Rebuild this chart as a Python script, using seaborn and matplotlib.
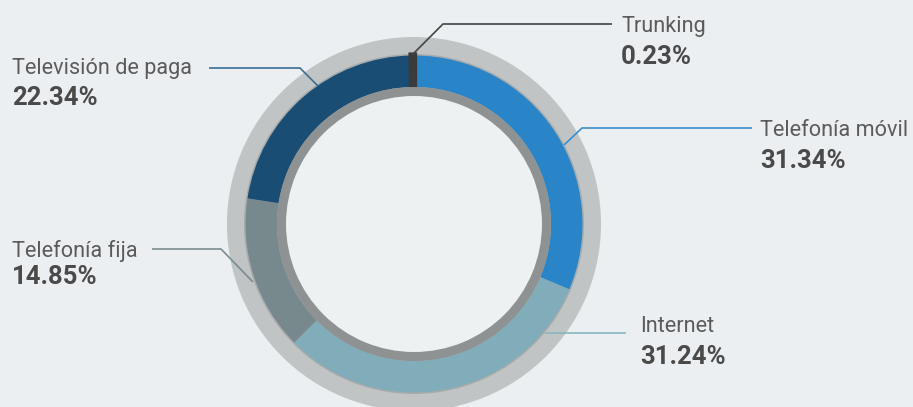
import matplotlib
matplotlib.use("Agg")
import matplotlib.pyplot as plt
from matplotlib.patches import Wedge
import seaborn as sns

# ---- data ----
categories = ["Telefonía móvil", "Internet", "Telefonía fija", "Televisión de paga", "Trunking"]
shares = [31.34, 31.24, 14.85, 22.34, 0.23]
pct_labels = ["31.34%", "31.24%", "14.85%", "22.34%", "0.23%"]
seg_colors = ["#2a85c8", "#80adb9", "#77898c", "#194d74", "#3b3b3b"]
line_colors = ["#3a8dcc", "#8ab6c1", "#7a8c8f", "#3d6d93", "#444444"]

W, H = 913, 407
BG = "#eceff1"

sns.set_theme(style="white")
plt.rcParams["font.family"] = ["Roboto", "DejaVu Sans"]

fig = plt.figure(figsize=(W / 100, H / 100), dpi=100, facecolor=BG)
ax = fig.add_axes([0, 0, 1, 1])
ax.set_facecolor(BG)
ax.set_xlim(0, W)
ax.set_ylim(0, H)

def Y(py):
    return H - py

cx, cy = 414, Y(224)
R_OUT, RING_W = 168.5, 31.5
palette = sns.color_palette(seg_colors)

# outer light ring
ax.pie([1], radius=187, center=(cx, cy), colors=["#c1c4c5"], frame=True,
       wedgeprops=dict(linewidth=0))
ax.pie([1], radius=170, center=(cx, cy), colors=["#a7abac"], frame=True,
       wedgeprops=dict(linewidth=0))
# data ring
wedges, _ = ax.pie(shares, radius=R_OUT, center=(cx, cy), colors=palette, startangle=90,
                   counterclock=False, frame=True,
                   wedgeprops=dict(width=RING_W, linewidth=0))
# the tiny Trunking slice is drawn with a stroke (clipped to the ring) so it stays visible
clip = Wedge((cx, cy), R_OUT, 0, 360, width=RING_W, transform=ax.transData)
wedges[-1].set_edgecolor(seg_colors[-1])
wedges[-1].set_linewidth(4.5)
wedges[-1].set_clip_path(clip)
# inner grey ring and inner disc
ax.pie([1], radius=137, center=(cx, cy), colors=["#8f9293"], frame=True,
       wedgeprops=dict(linewidth=0))
ax.pie([1], radius=128, center=(cx, cy), colors=["#eef1f2"], frame=True,
       wedgeprops=dict(linewidth=0))

# leader lines (pixel coords)
leaders = {
    "Telefonía móvil": [(564, 145), (582, 128), (752, 128)],
    "Internet": [(545, 333), (626, 333)],
    "Telefonía fija": [(253, 282), (221, 249), (152, 249)],
    "Televisión de paga": [(318, 86), (300, 68), (209, 68)],
    "Trunking": [(412, 55), (443, 24), (612, 24)],
}
# label anchors: left x, name baseline, pct baseline
label_pos = {
    "Telefonía móvil": (760, 136, 168),
    "Internet": (640, 332, 364),
    "Telefonía fija": (12, 257, 284),
    "Televisión de paga": (12, 74, 105),
    "Trunking": (621, 32, 64),
}

for cat, pct, lc in zip(categories, pct_labels, line_colors):
    pts = leaders[cat]
    ax.plot([p[0] for p in pts], [Y(p[1]) for p in pts], color=lc, lw=1.2,
            solid_capstyle="butt", zorder=5)
    x, yb1, yb2 = label_pos[cat]
    ax.text(x, Y(yb1), cat, fontsize=15.6, color="#5b5b5b", ha="left", va="baseline")
    ax.text(x, Y(yb2), pct, fontsize=18.5, color="#4a4a4a", fontweight="bold",
            ha="left", va="baseline")

ax.set_xlim(0, W)
ax.set_ylim(0, H)
ax.set_aspect("auto")
ax.axis("off")

fig.savefig("out.png", dpi=100, facecolor=BG)
